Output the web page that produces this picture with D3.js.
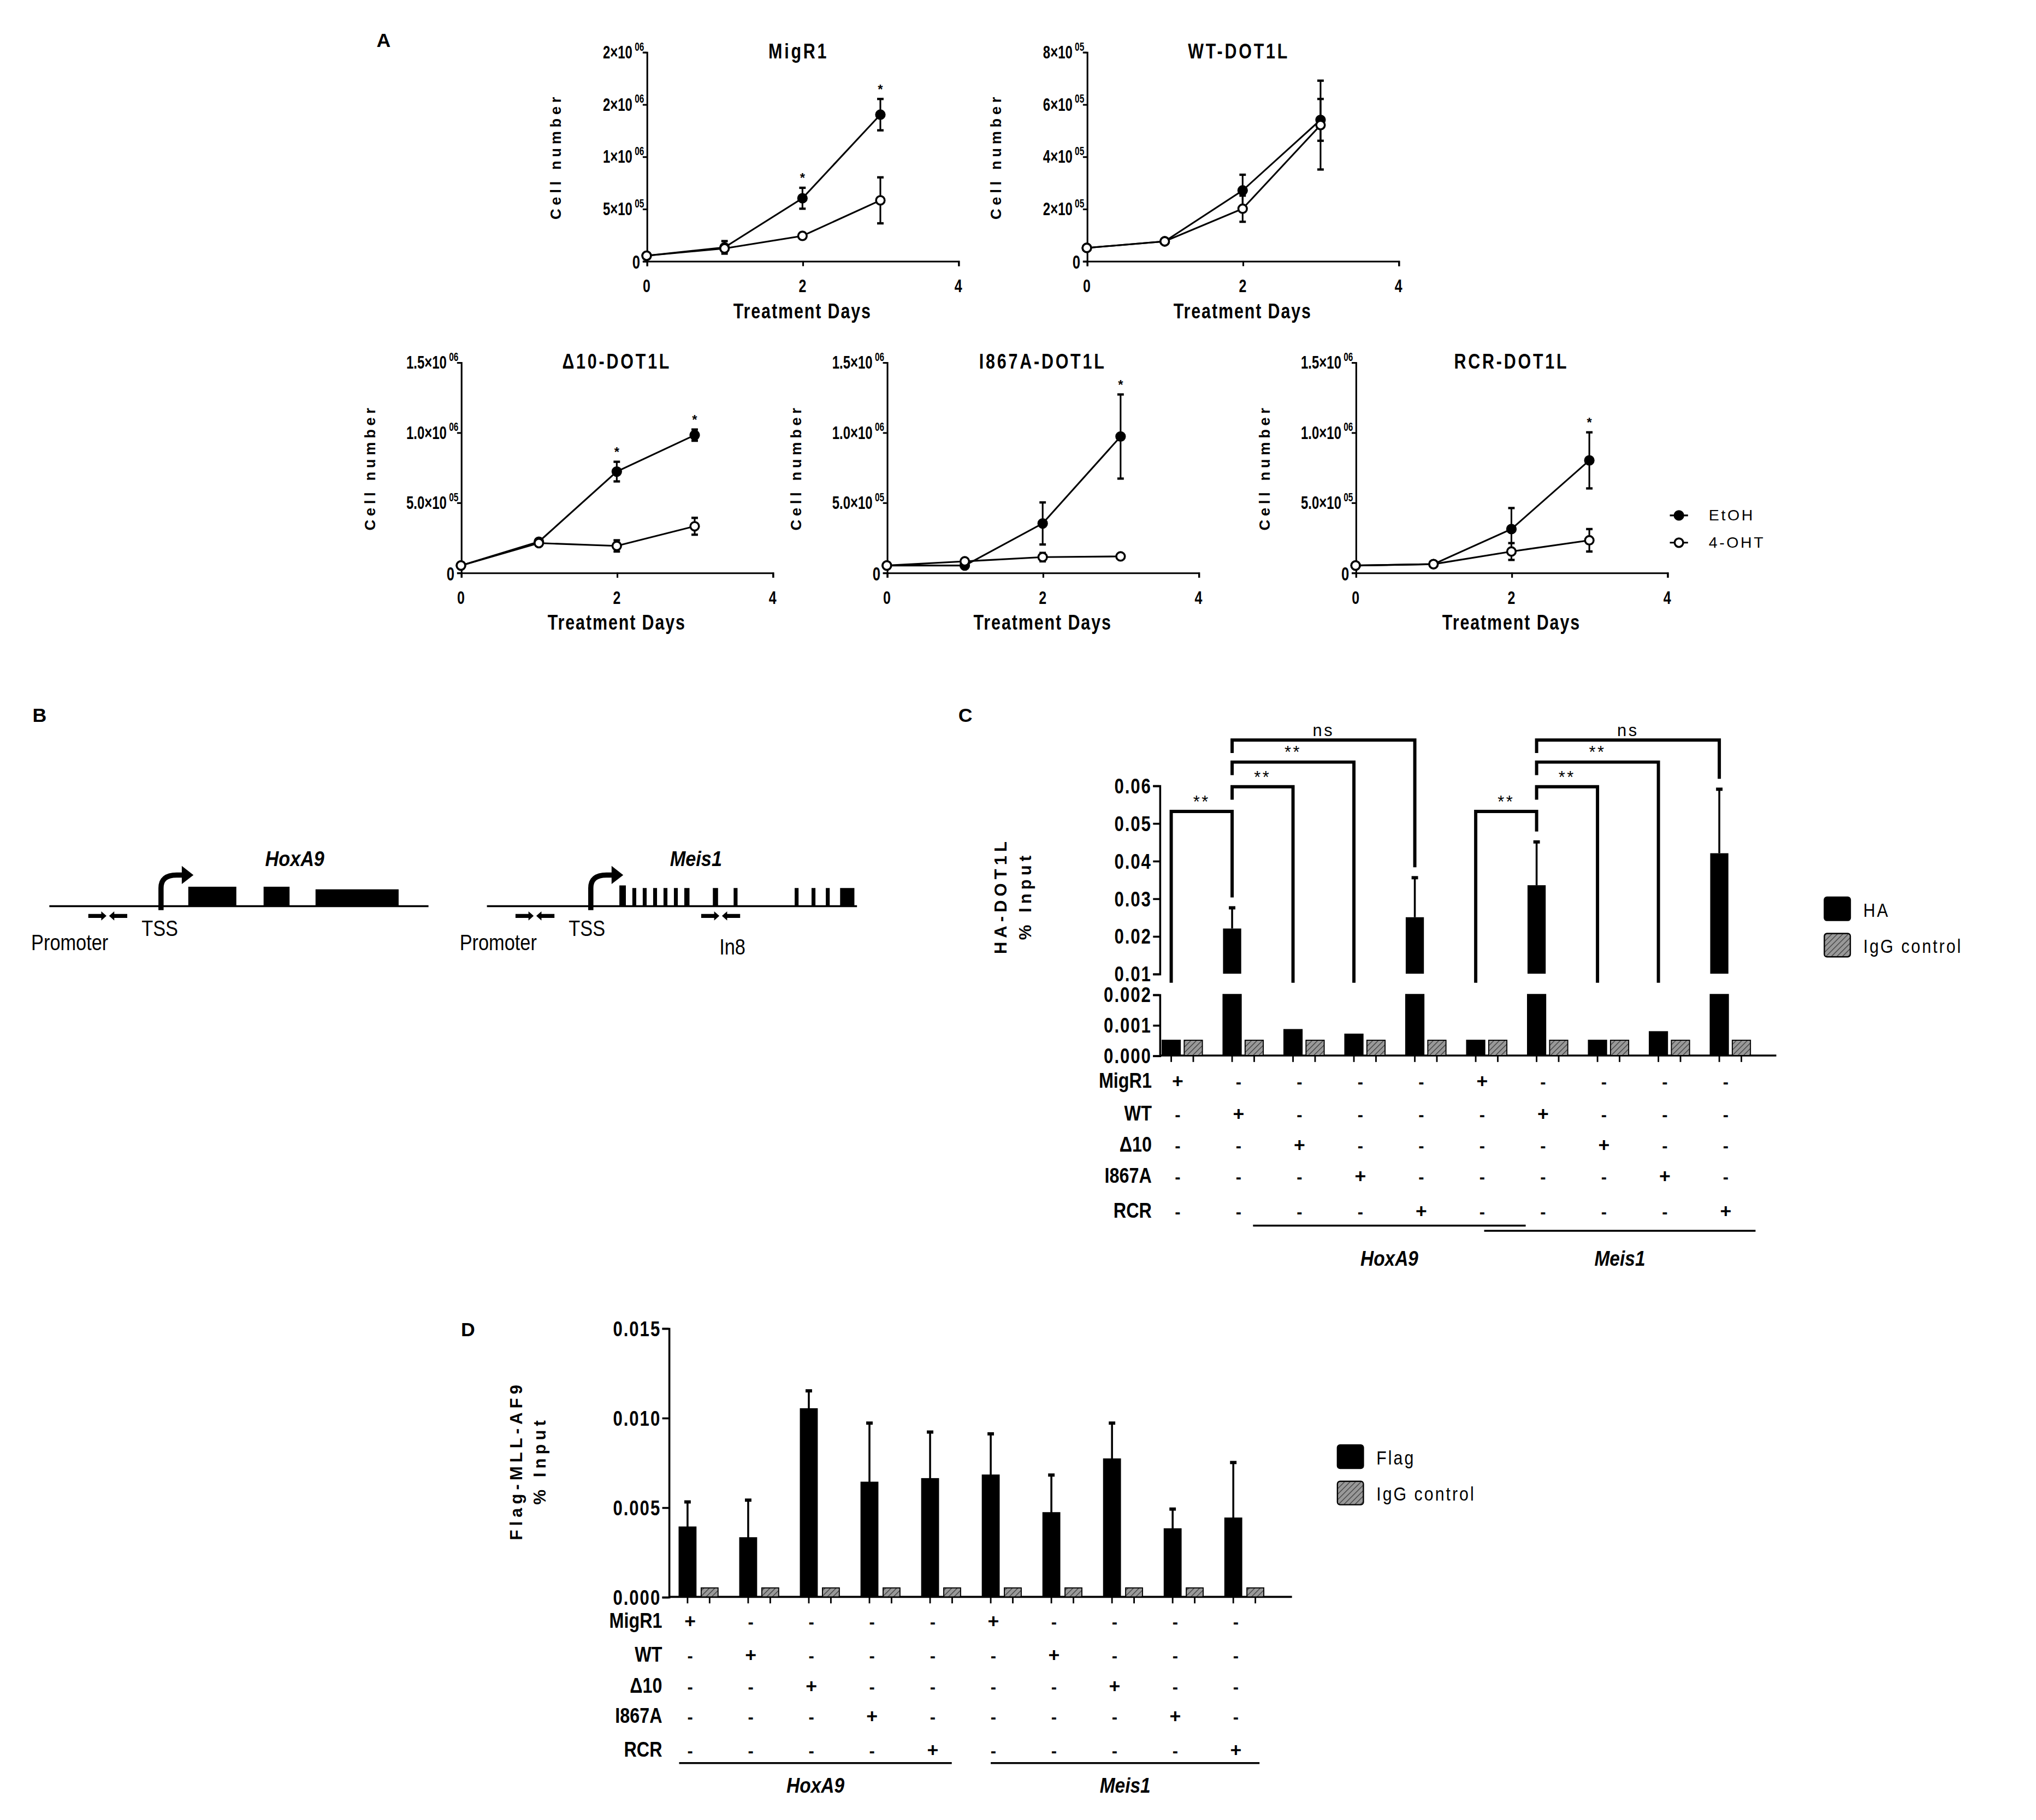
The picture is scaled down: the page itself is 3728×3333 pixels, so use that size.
<!DOCTYPE html>
<html><head><meta charset="utf-8">
<script src="https://cdn.jsdelivr.net/npm/d3@7"></script>
<style>body{margin:0;background:#fff}text{font-family:"Liberation Sans",Arial,sans-serif;font-weight:bold;fill:#000}</style>
</head><body>
<script>
// ---------- DATA ----------
const days = [0, 1, 2, 3];
const growthTitles = ["MigR1", "WT-DOT1L", "Δ10-DOT1L", "I867A-DOT1L", "RCR-DOT1L"];
const growthMax = [2e6, 8e5, 1.5e6, 1.5e6, 1.5e6];
const growthTickVals = [[0,5e5,1e6,1.5e6,2e6],[0,2e5,4e5,6e5,8e5],[0,5e5,1e6,1.5e6],[0,5e5,1e6,1.5e6],[0,5e5,1e6,1.5e6]];
const growthTickLabels = [
  [["0",""],["5×10","05"],["1×10","06"],["2×10","06"],["2×10","06"]],
  [["0",""],["2×10","05"],["4×10","05"],["6×10","05"],["8×10","05"]],
  [["0",""],["5.0×10","05"],["1.0×10","06"],["1.5×10","06"]],
  [["0",""],["5.0×10","05"],["1.0×10","06"],["1.5×10","06"]],
  [["0",""],["5.0×10","05"],["1.0×10","06"],["1.5×10","06"]]];
const etoh = [[5e4,1.3e5,6.0e5,1.4e6],[5e4,7.5e4,2.7e5,5.4e5],[5e4,2.2e5,7.2e5,9.8e5],[5e4,5e4,3.5e5,9.7e5],[5e4,6e4,3.1e5,8.0e5]];
const etohErr = [[1e4,6e4,1e5,1.5e5],[5e3,8e3,6e4,8e4],[1e4,1e4,7e4,4e4],[1e4,1e4,1.5e5,3e5],[1e4,1e4,1.5e5,2e5]];
const oht = [[5e4,1.2e5,2.4e5,5.8e5],[5e4,7.5e4,2.0e5,5.2e5],[5e4,2.1e5,1.9e5,3.3e5],[5e4,8e4,1.1e5,1.15e5],[5e4,6e4,1.5e5,2.3e5]];
const ohtErr = [[1e4,3e4,3e4,2.2e5],[5e3,8e3,5e4,1.7e5],[1e4,1e4,4e4,6e4],[1e4,1e4,3e4,1e4],[1e4,1e4,6e4,8e4]];
const growthStars = [[2,3],[],[2,3],[3],[3]];
const seriesNames = ["EtOH", "4-OHT"];

const rowLabels = ["MigR1", "WT", "Δ10", "I867A", "RCR"];
const signs = [
  ["+","-","-","-","-","+","-","-","-","-"],
  ["-","+","-","-","-","-","+","-","-","-"],
  ["-","-","+","-","-","-","-","+","-","-"],
  ["-","-","-","+","-","-","-","-","+","-"],
  ["-","-","-","-","+","-","-","-","-","+"]];
const haVals = [0.0005,0.022,0.00085,0.0007,0.025,0.0005,0.0335,0.0005,0.00078,0.042];
const haErr  = [0,0.0055,0,0,0.0105,0,0.0115,0,0,0.017];
const igC = [0.0005,0.0005,0.0005,0.0005,0.0005,0.0005,0.0005,0.0005,0.0005,0.0005];
const cLowTicks = [0,0.001,0.002], cLowLabels = ["0.000","0.001","0.002"];
const cHighTicks = [0.01,0.02,0.03,0.04,0.05,0.06], cHighLabels = ["0.01","0.02","0.03","0.04","0.05","0.06"];
const cBrackets = [[0,1,"**"],[1,2,"**"],[1,3,"**"],[1,4,"ns"],[5,6,"**"],[6,7,"**"],[6,8,"**"],[6,9,"ns"]];
const flagVals = [0.0039,0.0033,0.0105,0.0064,0.0066,0.0068,0.0047,0.0077,0.0038,0.0044];
const flagErr  = [0.0014,0.0021,0.0010,0.0033,0.0026,0.0023,0.0021,0.0020,0.0011,0.0031];
const igD = [0.0005,0.0005,0.0005,0.0005,0.0005,0.0005,0.0005,0.0005,0.0005,0.0005];
const dTicks = [0,0.005,0.010,0.015], dLabels = ["0.000","0.005","0.010","0.015"];
const genes = ["HoxA9", "Meis1"];

// ---------- SVG ----------
const S = 3728/1568;
const svg = d3.select("body").append("svg").attr("width",3728).attr("height",3333);
svg.append("defs").append("pattern").attr("id","hatch").attr("patternUnits","userSpaceOnUse")
  .attr("width",3).attr("height",3).attr("patternTransform","rotate(45)")
  .call(p=>{p.append("rect").attr("width",3).attr("height",3).attr("fill","#999");
            p.append("line").attr("x1",0).attr("y1",0).attr("x2",0).attr("y2",3).attr("stroke","#333").attr("stroke-width",1);});
const g = svg.append("g").attr("transform",`scale(${S})`);

function txt(x,y,s,opt={}){
  const sx = opt.sx||1;
  const t=g.append("text").text(s)
  .attr("font-size",opt.size||11).attr("text-anchor",opt.anchor||"start");
  if(opt.italic)t.attr("font-style","italic"); if(opt.ls)t.attr("letter-spacing",opt.ls);
  if(opt.weight)t.style("font-weight",opt.weight);
  if(opt.rot){t.attr("x",0).attr("y",0).attr("transform",`translate(${x},${y}) rotate(-90)`);}
  else if(sx!==1){t.attr("x",0).attr("y",0).attr("transform",`translate(${x},${y}) scale(${sx},1)`);}
  else t.attr("x",x).attr("y",y);
  return t;}

txt(290,36,"A",{size:15}); txt(25,556,"B",{size:15}); txt(738,556,"C",{size:15}); txt(355,1029,"D",{size:15});

// ---------- Panel A ----------
const panels = [[498,40,201],[837,40,201],[355,279,441],[683,279,441],[1044,279,441]];
panels.forEach(([x0,yT,yB],i)=>{
  const x = d3.scaleLinear().domain([0,4]).range([x0,x0+240]);
  const y = d3.scaleLinear().domain([0,growthMax[i]]).range([yB,yT]);
  const ax = g.append("g").attr("transform",`translate(${x0},0)`).call(d3.axisLeft(y).tickValues(growthTickVals[i]).tickFormat("").tickSize(3));
  ax.selectAll("path,line").attr("stroke","#000").attr("stroke-width",1.3);
  growthTickVals[i].forEach((v,k)=>{const [a,b]=growthTickLabels[i][k];
    const t=g.append("text").attr("text-anchor","end").attr("font-size",b?14:15)
      .attr("transform",`translate(${x0-(b?2:5)},${y(v)+(b?5:6)}) scale(0.72,1)`);
    t.append("tspan").text(a); if(b) t.append("tspan").attr("dy",-6).attr("font-size",9).text(" "+b);});
  const bx = g.append("g").attr("transform",`translate(0,${yB})`).call(d3.axisBottom(x).tickValues([0,2,4]).tickFormat("").tickSize(4));
  bx.selectAll("path,line").attr("stroke","#000").attr("stroke-width",1.3);
  [0,2,4].forEach(v=>txt(x(v),yB+24,String(v),{size:14,anchor:"middle",sx:0.75}));
  txt(x(2),yB+44,"Treatment Days",{size:16,anchor:"middle",ls:1,sx:0.8});
  txt(x0-66,(yT+yB)/2,"Cell number",{size:11.5,anchor:"middle",ls:2.8,rot:true,weight:"900"});
  txt(x(2)-(i<2?3:0),yT+5,growthTitles[i],{size:16,anchor:"middle",ls:2,sx:0.8});
  [[etoh[i],etohErr[i],true],[oht[i],ohtErr[i],false]].forEach(([vals,err,filled])=>{
    g.append("path").datum(vals).attr("fill","none").attr("stroke","#000").attr("stroke-width",1.3)
      .attr("d",d3.line().x((d,k)=>x(days[k])).y(d=>y(d)));
    vals.forEach((v,k)=>{const cx=x(days[k]);
      if(err[k]>0){g.append("line").attr("x1",cx).attr("x2",cx).attr("y1",y(v-err[k])).attr("y2",y(v+err[k])).attr("stroke","#000").attr("stroke-width",1.3);
        [v-err[k],v+err[k]].forEach(e=>g.append("line").attr("x1",cx-2.5).attr("x2",cx+2.5).attr("y1",y(e)).attr("y2",y(e)).attr("stroke","#000").attr("stroke-width",1.8));}
      g.append("circle").attr("cx",cx).attr("cy",y(v)).attr("r",3.3).attr("fill",filled?"#000":"#fff").attr("stroke","#000").attr("stroke-width",1.5);});
  });
  growthStars[i].forEach(k=>txt(x(days[k]),y(etoh[i][k]+etohErr[i][k])-4,"*",{size:10,anchor:"middle"}));
});
seriesNames.forEach((n,k)=>{const yy=397+k*21;
  g.append("line").attr("x1",1286).attr("x2",1300).attr("y1",yy).attr("y2",yy).attr("stroke","#000").attr("stroke-width",1.3);
  g.append("circle").attr("cx",1293).attr("cy",yy).attr("r",3.3).attr("fill",k?"#fff":"#000").attr("stroke","#000").attr("stroke-width",1.5);
  txt(1316,yy+4,n,{size:12,ls:1.5,weight:"normal"});});

// ---------- Panel B ----------
function gene(x0,x1,arrowX,exons,name,nameX,primers,labels){
  g.append("line").attr("x1",x0).attr("x2",x1).attr("y1",698).attr("y2",698).attr("stroke","#000").attr("stroke-width",1.5);
  exons.forEach(([a,b,h])=>g.append("rect").attr("x",a).attr("y",698-h).attr("width",b-a).attr("height",h).attr("fill","#000"));
  g.append("path").attr("d",`M${arrowX},701 L${arrowX},684 Q${arrowX},674 ${arrowX+12},674 L${arrowX+17},674`).attr("fill","none").attr("stroke","#000").attr("stroke-width",4);
  g.append("path").attr("d",`M${arrowX+16},667 L${arrowX+25},674 L${arrowX+16},681 Z`).attr("fill","#000");
  txt(nameX,667,name,{size:16,anchor:"middle",italic:true,sx:0.9});
  primers.forEach(px=>{
    g.append("path").attr("d",`M${px},704 h10 v-2 l4,3.5 l-4,3.5 v-2 h-10 Z`).attr("fill","#000");
    g.append("path").attr("d",`M${px+30},704 h-10 v-2 l-4,3.5 l4,3.5 v-2 h10 Z`).attr("fill","#000");});
  labels.forEach(([s,lx,ly])=>txt(lx,ly,s,{size:17,weight:"normal",sx:0.85}));
}
gene(38,330,124,[[145,182,15],[203,223,15],[243,307,13]],genes[0],227,[68],[["Promoter",24,732],["TSS",109,721]]);
const meisEx=[[477,482,16],[487,490,14],[495,498,14],[503,506,14],[511,514,14],[519,522,14],[527,531,14],[549,553,14],[565,568,14],[612,615,14],[625,628,14],[636,639,14],[647,658,14]];
gene(375,660,455,meisEx,genes[1],536,[397,540],[["Promoter",354,732],["TSS",438,721],["In8",554,735]]);

// ---------- Bar helpers ----------
function rowsAndGenes(xc,ys,labX,geneLines,geneY){
  rowLabels.forEach((r,ri)=>{txt(labX,ys[ri]+5,r,{size:16,anchor:"end",sx:0.85});
    signs[ri].forEach((s,k)=>txt(xc(k),ys[ri]+5,s,{size:s==="+"?15:13,anchor:"middle"}));});
  geneLines.forEach(([a,b,yy],k)=>{g.append("line").attr("x1",a).attr("x2",b).attr("y1",yy).attr("y2",yy).attr("stroke","#000").attr("stroke-width",1.5);
    txt((a+b)/2,geneY,genes[k],{size:16,anchor:"middle",italic:true,sx:0.88});});
}
function legend(x,y,names){names.forEach((n,k)=>{const yy=y+k*28;
  g.append("rect").attr("x",x).attr("y",yy-9).attr("width",20).attr("height",18).attr("rx",2).attr("fill",k?"url(#hatch)":"#000").attr("stroke","#000").attr("stroke-width",1);
  txt(x+30,yy+6,n,{size:15,ls:1.5,weight:"normal",sx:0.85});});}

// ---------- Panel C ----------
const xC = d3.scaleBand().domain(d3.range(10)).range([895,1364]).paddingInner(0);
const bwC = 14;
const yLow = d3.scaleLinear().domain([0,0.002]).range([813,766]);
const yHigh = d3.scaleLinear().domain([0.01,0.06]).range([750,605]);
const cx0=893;
g.append("g").attr("transform",`translate(${cx0},0)`).call(d3.axisLeft(yLow).tickValues(cLowTicks).tickFormat("").tickSize(5)).selectAll("path,line").attr("stroke","#000").attr("stroke-width",1.5);
g.append("g").attr("transform",`translate(${cx0},0)`).call(d3.axisLeft(yHigh).tickValues(cHighTicks).tickFormat("").tickSize(5)).selectAll("path,line").attr("stroke","#000").attr("stroke-width",1.5);
cLowTicks.forEach((v,k)=>txt(cx0-6,yLow(v)+6,cLowLabels[k],{size:16,anchor:"end",ls:1,sx:0.82}));
cHighTicks.forEach((v,k)=>txt(cx0-6,yHigh(v)+6,cHighLabels[k],{size:16,anchor:"end",ls:1,sx:0.82}));
g.append("line").attr("x1",cx0).attr("x2",1368).attr("y1",813).attr("y2",813).attr("stroke","#000").attr("stroke-width",1.5);
d3.range(10).forEach(k=>{
  const xa=xC(k), xb=xa+bwC+3;
  [[xa,haVals[k],"#000"],[xb,igC[k],"url(#hatch)"]].forEach(([bx,v,f])=>{
    g.append("rect").attr("x",bx).attr("y",yLow(Math.min(v,0.002))).attr("width",bwC).attr("height",813-yLow(Math.min(v,0.002))).attr("fill",f).attr("stroke","#000").attr("stroke-width",0.8);
    if(v>0.01) g.append("rect").attr("x",bx).attr("y",yHigh(v)).attr("width",bwC).attr("height",750-yHigh(v)).attr("fill",f);
    g.append("line").attr("x1",bx+bwC/2).attr("x2",bx+bwC/2).attr("y1",813).attr("y2",818).attr("stroke","#000").attr("stroke-width",1.2);
  });
  if(haErr[k]>0){const cx=xa+bwC/2, t=yHigh(haVals[k]+haErr[k]);
    g.append("line").attr("x1",cx).attr("x2",cx).attr("y1",yHigh(haVals[k])).attr("y2",t).attr("stroke","#000").attr("stroke-width",1.5);
    g.append("line").attr("x1",cx-2.5).attr("x2",cx+2.5).attr("y1",t).attr("y2",t).attr("stroke","#000").attr("stroke-width",2.5);}
});
cBrackets.forEach(([a,b,lab])=>{
  const lvl = (b-a===1 && (a===0||a===5))?1:(b-a===1?2:(b-a===2?3:4));
  const yy = [625,606,587,570][lvl-1];
  const leg = k=> haVals[k]>0.01 ? yHigh(haVals[k]+haErr[k])-8 : 757;
  const xa=xC(a)+bwC/2, xb=xC(b)+bwC/2;
  g.append("path").attr("d",`M${xa},${lvl===1?leg(a):yy+10} L${xa},${yy} L${xb},${yy} L${xb},${leg(b)}`).attr("fill","none").attr("stroke","#000").attr("stroke-width",2.5);
  txt((xa+xb)/2,yy-3,lab,{size:13,anchor:"middle",ls:1.5,weight:"normal"});
});
txt(775,690,"HA-DOT1L",{size:13,anchor:"middle",ls:3,rot:true,weight:"900"});
txt(794,690,"% Input",{size:13,anchor:"middle",ls:3,rot:true,weight:"900"});
legend(1405,700,["HA","IgG control"]);
rowsAndGenes(k=>xC(k)+bwC/2+5,[833,858,882,906,933],887,[[965,1175,944],[1143,1352,948]],975);

// ---------- Panel D ----------
const xD = d3.scaleBand().domain(d3.range(10)).range([523,990]);
const bwD = 13;
const yD = d3.scaleLinear().domain([0,0.015]).range([1230,1023]);
g.append("g").attr("transform","translate(515,0)").call(d3.axisLeft(yD).tickValues(dTicks).tickFormat("").tickSize(5)).selectAll("path,line").attr("stroke","#000").attr("stroke-width",1.5);
dTicks.forEach((v,k)=>txt(509,yD(v)+6,dLabels[k],{size:16,anchor:"end",ls:1,sx:0.82}));
g.append("line").attr("x1",515).attr("x2",995).attr("y1",1230).attr("y2",1230).attr("stroke","#000").attr("stroke-width",1.5);
d3.range(10).forEach(k=>{
  const xa=xD(k), xb=xa+bwD+4;
  [[xa,flagVals[k],"#000"],[xb,igD[k],"url(#hatch)"]].forEach(([bx,v,f])=>{
    g.append("rect").attr("x",bx).attr("y",yD(v)).attr("width",bwD).attr("height",1230-yD(v)).attr("fill",f).attr("stroke","#000").attr("stroke-width",0.8);
    g.append("line").attr("x1",bx+bwD/2).attr("x2",bx+bwD/2).attr("y1",1230).attr("y2",1235).attr("stroke","#000").attr("stroke-width",1.2);});
  const cx=xa+bwD/2, t=yD(flagVals[k]+flagErr[k]);
  g.append("line").attr("x1",cx).attr("x2",cx).attr("y1",yD(flagVals[k])).attr("y2",t).attr("stroke","#000").attr("stroke-width",1.5);
  g.append("line").attr("x1",cx-2.5).attr("x2",cx+2.5).attr("y1",t).attr("y2",t).attr("stroke","#000").attr("stroke-width",2.5);
});
txt(402,1125,"Flag-MLL-AF9",{size:13,anchor:"middle",ls:3,rot:true,weight:"900"});
txt(420,1125,"% Input",{size:13,anchor:"middle",ls:3,rot:true,weight:"900"});
legend(1030,1122,["Flag","IgG control"]);
rowsAndGenes(k=>xD(k)+bwD/2+2,[1249,1275,1299,1322,1348],510,[[523,733,1358],[763,970,1358]],1381);
</script></body></html>
